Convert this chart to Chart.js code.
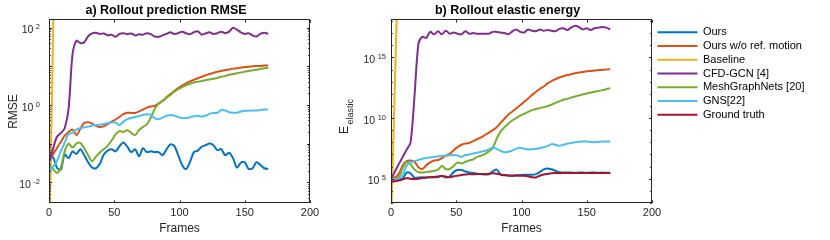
<!DOCTYPE html>
<html><head><meta charset="utf-8">
<script src="https://cdn.jsdelivr.net/npm/chart.js@4"></script>
<style>
html,body{margin:0;padding:0;background:#fff;}
#wrap{position:relative;width:830px;height:240px;overflow:hidden;background:#fff;}
.pane{position:absolute;top:0;height:240px;}
</style></head><body>
<div id="wrap">
  <div class="pane" style="left:0;width:332px"><canvas id="ca"></canvas></div>
  <div class="pane" style="left:330px;width:355px"><canvas id="cb"></canvas></div>
  <div class="pane" style="left:650px;width:180px"><canvas id="cl"></canvas></div>
</div>
<script>
// ---------- data ----------
const frames = [0,3,6,9,12,15,18,21,24,27,30,33,36,39,42,45,48,51,54,57,60,63,66,69,72,75,78,81,84,87,90,93,96,99,102,105,108,111,114,117,120,123,126,129,132,135,138,141,144,147,150,153,156,159,162,165,168];
const seriesNames = ['Ours','Ours w/o ref. motion','Baseline','CFD-GCN [4]','MeshGraphNets [20]','GNS[22]','Ground truth'];
const seriesColors = ['#0072BD','#D95319','#EDB120','#7E2F8E','#77AC30','#4DBEEE','#A2142F'];
const xTickValues = [0,50,100,150,200];
const rmseTickExponents = [-2,0,2];
const energyTickExponents = [5,10,15];

// a) RMSE
const rmseOurs = [0.032,0.045,0.024,0.021,0.052,0.042,0.063,0.054,0.071,0.050,0.033,0.024,0.023,0.030,0.052,0.066,0.071,0.063,0.085,0.107,0.083,0.060,0.071,0.047,0.076,0.060,0.063,0.060,0.060,0.050,0.071,0.095,0.087,0.050,0.028,0.022,0.033,0.060,0.066,0.083,0.091,0.100,0.091,0.068,0.072,0.050,0.058,0.042,0.024,0.032,0.033,0.022,0.023,0.033,0.028,0.023,0.022];
const rmseNoRef = [0.032,0.052,0.076,0.11,0.16,0.20,0.23,0.166,0.24,0.34,0.355,0.33,0.29,0.27,0.28,0.32,0.37,0.42,0.49,0.575,0.63,0.62,0.62,0.68,0.76,0.85,0.91,0.95,1.10,1.29,1.58,1.91,2.29,2.75,3.16,3.63,4.07,4.47,4.90,5.37,5.89,6.31,6.76,7.24,7.59,7.94,8.32,8.71,8.91,9.33,9.55,9.77,10.0,10.2,10.2,10.5,10.5];
const rmseBaselineFrames = [0,4];
const rmseBaseline = [0.0001,3000];
const rmseCfd = [0.032,0.071,0.148,0.186,0.25,0.79,20,46,40,42,60,71,74,69,71,63,66,58,69,72,68,71,63,68,66,72,68,59,58,63,69,76,69,72,79,72,68,76,81,66,71,76,69,72,79,72,79,100,89,76,69,72,63,59,69,74,69];
const rmseMgn = [0.028,0.022,0.0174,0.024,0.063,0.10,0.079,0.10,0.105,0.076,0.050,0.035,0.046,0.059,0.071,0.089,0.12,0.174,0.21,0.20,0.22,0.19,0.166,0.224,0.27,0.316,0.47,0.79,1.07,1.26,1.52,1.82,2.19,2.57,2.88,3.24,3.55,3.80,3.98,4.17,4.37,4.57,4.79,5.01,5.37,5.62,6.03,6.31,6.61,6.92,7.24,7.59,7.94,8.13,8.51,8.91,9.12];
const rmseGns = [0.0178,0.025,0.035,0.063,0.105,0.178,0.19,0.23,0.25,0.263,0.275,0.29,0.30,0.31,0.32,0.34,0.35,0.355,0.30,0.37,0.43,0.46,0.49,0.52,0.55,0.575,0.56,0.457,0.427,0.468,0.525,0.55,0.525,0.49,0.457,0.457,0.48,0.51,0.525,0.50,0.525,0.59,0.62,0.63,0.74,0.72,0.65,0.63,0.63,0.68,0.71,0.71,0.72,0.72,0.74,0.76,0.76];

// b) elastic energy
const energyOurs = [8.9e4,8.9e4,1.0e5,1.0e5,3.2e5,2.8e5,1.2e5,1.26e5,1.32e5,1.26e5,1.32e5,1.35e5,1.32e5,1.78e5,1.26e5,1.58e5,3.5e5,5.2e5,5.2e5,4.0e5,3.3e5,3.0e5,2.6e5,2.4e5,2.2e5,2.3e5,4.0e5,5.6e5,2.2e5,1.9e5,1.78e5,1.66e5,1.9e5,2.0e5,2.1e5,2.1e5,2.1e5,2.4e5,3.5e5,6.0e5,7.1e5,6.0e5,4.5e5,3.5e5,3.3e5,3.2e5,3.2e5,3.1e5,3.2e5,3.2e5,3.1e5,3.2e5,3.2e5,3.1e5,3.2e5,3.1e5,3.1e5];
const energyNoRef = [1.0e5,1.26e5,2.5e5,1.26e6,2.8e6,3.2e6,2.5e6,8.9e5,6.3e5,1.26e6,2.2e6,3.2e6,3.5e6,5.0e6,7.9e6,1.12e7,2.2e7,4.0e7,6.3e7,7.9e7,8.9e7,1.26e8,1.78e8,2.5e8,4.0e8,6.3e8,1.0e9,1.78e9,4.0e9,8.9e9,2.0e10,3.5e10,6.3e10,1.12e11,2.2e11,4.0e11,7.9e11,1.41e12,2.5e12,4.0e12,7.1e12,1.12e13,1.58e13,2.2e13,2.8e13,3.5e13,4.0e13,5.0e13,5.6e13,6.3e13,7.1e13,7.6e13,8.3e13,8.9e13,9.5e13,1.0e14,1.05e14];
const energyBaselineFrames = [0,5];
const energyBaseline = [1e1,7e20];
const energyCfd = [7.9e4,4.0e5,1.6e6,6.3e6,2.5e7,1.0e8,6.3e11,1.26e16,5.0e16,4.0e16,1.26e17,7.9e16,1.41e17,7.9e16,1.58e17,8.9e16,1.12e17,8.9e16,7.9e16,1.41e17,8.9e16,1.0e17,8.9e16,8.9e16,8.9e16,8.9e16,1.26e17,1.26e17,1.12e17,1.0e17,7.9e16,1.41e17,2.0e17,1.26e17,1.12e17,2.0e17,1.58e17,1.41e17,2.0e17,1.58e17,1.78e17,1.58e17,1.41e17,2.24e17,2.51e17,1.78e17,2.82e17,3.98e17,3.16e17,2.0e17,2.51e17,1.78e17,2.51e17,2.82e17,3.16e17,2.82e17,2.0e17];
const energyMgn = [1.0e5,8.9e4,1.26e5,7.9e5,2.5e6,1.58e6,5.6e5,3.5e5,3.2e5,3.5e5,4.0e5,4.5e5,5.6e5,1.12e6,6.3e5,6.3e5,1.12e6,2.2e6,1.78e6,2.5e6,3.2e6,4.0e6,6.3e6,7.9e6,1.12e7,1.78e7,3.5e7,2.0e8,7.9e8,1.78e9,3.5e9,6.3e9,1.0e10,1.58e10,2.2e10,3.2e10,4.5e10,5.6e10,6.6e10,7.9e10,9.5e10,1.26e11,1.78e11,2.4e11,3.2e11,3.8e11,4.8e11,6.0e11,7.4e11,8.9e11,1.07e12,1.26e12,1.48e12,1.7e12,2.0e12,2.4e12,2.8e12];
const energyGns = [1.0e5,8.9e4,8.9e4,2.0e5,1.26e6,2.2e6,2.8e6,3.5e6,4.5e6,5.0e6,5.6e6,6.3e6,7.1e6,7.6e6,7.9e6,8.5e6,8.9e6,8.3e6,6.3e6,8.9e6,1.0e7,1.2e7,1.41e7,1.66e7,2.0e7,2.6e7,3.8e7,2.8e7,2.0e7,1.51e7,1.66e7,2.1e7,3.0e7,3.5e7,3.0e7,2.6e7,2.7e7,2.9e7,3.3e7,4.0e7,4.8e7,7.1e7,6.3e7,5.2e7,6.3e7,7.6e7,8.9e7,1.0e8,1.12e8,1.17e8,1.15e8,1.07e8,1.0e8,1.07e8,1.15e8,1.17e8,1.17e8];
const energyTruth = [5.6e4,6.3e4,7.1e4,8.9e4,1.12e5,1.0e5,9.5e4,1.0e5,1.12e5,1.26e5,1.32e5,1.41e5,1.51e5,1.66e5,1.51e5,1.32e5,1.58e5,1.78e5,2.0e5,2.2e5,2.4e5,2.3e5,2.4e5,2.5e5,2.5e5,2.6e5,2.8e5,2.6e5,2.2e5,2.0e5,1.86e5,1.82e5,1.82e5,1.78e5,1.74e5,1.58e5,1.32e5,1.26e5,1.78e5,2.2e5,2.5e5,2.8e5,3.0e5,2.9e5,2.9e5,2.9e5,2.9e5,2.9e5,2.9e5,2.9e5,2.9e5,2.9e5,2.9e5,2.9e5,2.9e5,2.9e5,2.9e5];

// ---------- helpers ----------
Chart.defaults.font.family = "'Liberation Sans', Helvetica, Arial, sans-serif";
Chart.defaults.color = '#262626';
const AX = '#262626';
const pts = (xs, ys) => xs.map((x, i) => ({x: x, y: ys[i]}));
function ds(idx, xs, ys) {
  return {label: seriesNames[idx], data: pts(xs, ys), borderColor: seriesColors[idx],
    backgroundColor: seriesColors[idx], borderWidth: 2, pointRadius: 0, tension: 0.3,
    fill: false, clip: 0, order: -idx, yAxisID: 'y'};
}

const matlabAxes = {
  id: 'matlabAxes',
  afterDatasetsDraw(chart, args, o) {
    const ctx = chart.ctx, a = chart.chartArea, xs = chart.scales.x, ys = chart.scales.y;
    ctx.save();
    ctx.strokeStyle = AX; ctx.lineWidth = 1;
    ctx.beginPath();
    for (const t of xs.ticks) {
      const px = Math.round(xs.getPixelForValue(t.value)) + 0.5;
      ctx.moveTo(px, a.bottom); ctx.lineTo(px, a.bottom - o.xLen);
      ctx.moveTo(px, a.top); ctx.lineTo(px, a.top + o.xLen);
    }
    for (const t of ys.ticks) {
      const py = Math.round(ys.getPixelForValue(t.value)) + 0.5;
      const len = t.major ? o.majorLen : o.minorLen;
      ctx.moveTo(a.left, py); ctx.lineTo(a.left + len, py);
      ctx.moveTo(a.right, py); ctx.lineTo(a.right - len, py);
    }
    ctx.stroke();
    ctx.strokeRect(Math.round(a.left) + 0.5, Math.round(a.top) - 0.5, Math.round(a.right - a.left) - 1, Math.round(a.bottom - a.top));
    // y tick labels 10^e
    ctx.fillStyle = AX;
    for (const e of o.exps) {
      const py = ys.getPixelForValue(Math.pow(10, e));
      const sup = String(e);
      ctx.font = "7.5px 'Liberation Sans', Arial, sans-serif";
      const sw = ctx.measureText(sup).width;
      const rx = a.left - o.gap;
      ctx.textAlign = 'left'; ctx.textBaseline = 'alphabetic';
      ctx.fillText(sup, rx - sw, py + 1.6);
      ctx.font = "10.5px 'Liberation Sans', Arial, sans-serif";
      ctx.textAlign = 'right';
      ctx.fillText('10', rx - sw - 2.5, py + 5.6);
    }
    if (o.eLabel) {
      const cy = (a.top + a.bottom) / 2;
      ctx.translate(18.3, cy + 22.5);
      ctx.rotate(-Math.PI / 2);
      ctx.textAlign = 'left'; ctx.textBaseline = 'alphabetic';
      ctx.font = "12px 'Liberation Sans', Arial, sans-serif";
      ctx.fillText('E', 0, 0);
      const ew = ctx.measureText('E').width;
      ctx.font = "9px 'Liberation Sans', Arial, sans-serif";
      ctx.fillText('elastic', ew + 1.5, 5);
    }
    ctx.restore();
  }
};

function logTicks(d0, d1, withMinor, majorEvery) {
  return function (s) {
    const out = [];
    for (let d = d0; d <= d1; d++) {
      const ms = withMinor ? [1,2,3,4,5,6,7,8,9] : [1];
      for (const m of ms) {
        const v = m * Math.pow(10, d);
        if (v >= s.min && v <= s.max) out.push({value: v, major: m === 1 && (d % majorEvery === 0)});
      }
    }
    s.ticks = out;
  };
}

function xScale() {
  return {type: 'linear', min: 0, max: 200,
    afterBuildTicks: s => { s.ticks = xTickValues.map(v => ({value: v})); },
    ticks: {color: AX, font: {size: 11}, padding: 3, maxRotation: 0},
    grid: {display: false, drawTicks: false}, border: {display: false},
    title: {display: true, text: 'Frames', color: AX, font: {size: 12}, padding: {top: 0, bottom: 4}},
    afterFit: s => { s.height = 37; }};
}
function spacer(w) {
  return {type: 'linear', position: 'right', display: true,
    ticks: {display: false}, grid: {display: false, drawTicks: false}, border: {display: false},
    afterFit: s => { s.width = w; }};
}

// ---------- chart a ----------
new Chart(document.getElementById('ca'), {
  type: 'line',
  data: {datasets: [
    ds(0, frames, rmseOurs), ds(1, frames, rmseNoRef), ds(2, rmseBaselineFrames, rmseBaseline),
    ds(3, frames, rmseCfd), ds(4, frames, rmseMgn), ds(5, frames, rmseGns)]},
  options: {
    responsive: true, maintainAspectRatio: false, animation: false,
    layout: {padding: 0},
    scales: {
      x: xScale(),
      y: {type: 'logarithmic', position: 'left', min: 0.0029, max: 158, bounds: 'data',
        afterBuildTicks: logTicks(-3, 2, true, 1),
        ticks: {display: false}, grid: {display: false, drawTicks: false}, border: {display: false},
        title: {display: true, text: 'RMSE', color: AX, font: {size: 12}, padding: {top: 6, bottom: 0}},
        afterFit: s => { s.width = 49; }},
      pad: spacer(22)
    },
    plugins: {
      legend: {display: false}, tooltip: {enabled: false},
      title: {display: true, text: 'a) Rollout prediction RMSE', color: '#000', font: {size: 12.5, weight: 'bold'}, padding: {top: 3, bottom: 2}},
      matlabAxes: {xLen: 2.6, majorLen: 3, minorLen: 1.8, exps: rmseTickExponents, gap: 9}
    }
  },
  plugins: [matlabAxes]
});

// ---------- chart b ----------
new Chart(document.getElementById('cb'), {
  type: 'line',
  data: {datasets: [
    ds(0, frames, energyOurs), ds(1, frames, energyNoRef), ds(2, energyBaselineFrames, energyBaseline),
    ds(3, frames, energyCfd), ds(4, frames, energyMgn), ds(5, frames, energyGns), ds(6, frames, energyTruth)]},
  options: {
    responsive: true, maintainAspectRatio: false, animation: false,
    layout: {padding: 0},
    scales: {
      x: xScale(),
      y: {type: 'logarithmic', position: 'left', min: 1e3, max: 1.2e18, bounds: 'data',
        afterBuildTicks: logTicks(3, 18, false, 5),
        ticks: {display: false}, grid: {display: false, drawTicks: false}, border: {display: false},
        title: {display: false},
        afterFit: s => { s.width = 61; }},
      pad: spacer(33)
    },
    plugins: {
      legend: {display: false}, tooltip: {enabled: false},
      title: {display: true, text: 'b) Rollout elastic energy', color: '#000', font: {size: 12.5, weight: 'bold'}, padding: {top: 3, bottom: 2}},
      matlabAxes: {xLen: 2.6, majorLen: 3, minorLen: 1.8, exps: energyTickExponents, gap: 5, eLabel: true}
    }
  },
  plugins: [matlabAxes]
});

// ---------- legend ----------
new Chart(document.getElementById('cl'), {
  type: 'line',
  data: {datasets: seriesNames.map((n, i) => ({label: n, data: [], borderColor: seriesColors[i], backgroundColor: seriesColors[i], borderWidth: 2}))},
  options: {
    responsive: true, maintainAspectRatio: false, animation: false,
    layout: {padding: {left: 4.7, right: 0, top: 24, bottom: 0}},
    scales: {x: {display: false}, y: {display: false}},
    plugins: {
      tooltip: {enabled: false},
      legend: {display: true, position: 'top', align: 'start',
        labels: {usePointStyle: true, pointStyle: 'line', pointStyleWidth: 40, padding: 2.75, color: '#000', font: {size: 11}}}
    }
  }
});
</script>
</body></html>
